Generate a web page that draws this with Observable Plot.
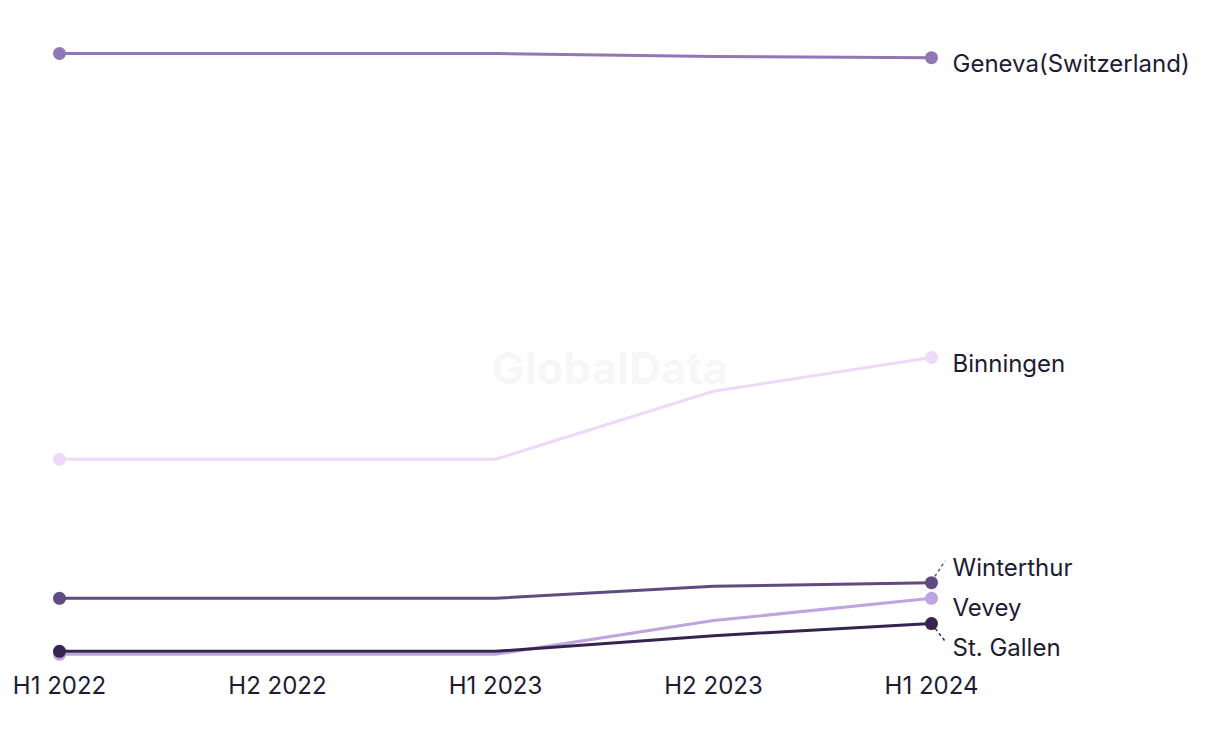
<!DOCTYPE html>
<html>
<head>
<meta charset="utf-8">
<script src="https://cdn.jsdelivr.net/npm/d3@7"></script>
<script src="https://cdn.jsdelivr.net/npm/@observablehq/plot@0.6"></script>
<style>
  html, body { margin: 0; padding: 0; background: #ffffff; }
  #chart { width: 1220px; height: 744px; }
  svg { font-family: Inter, "Noto Sans", sans-serif; }
</style>
</head>
<body>
<div id="chart"></div>
<script>
const periods = ["H1 2022", "H2 2022", "H1 2023", "H2 2023", "H1 2024"];
const cities = ["Geneva(Switzerland)", "Binningen", "Winterthur", "Vevey", "St. Gallen"];
const geneva = [100, 100, 100, 99.5, 99.3];
const binningen = [32.6, 32.6, 32.6, 43.9, 49.5];
const winterthur = [9.5, 9.5, 9.5, 11.5, 12.1];
const vevey = [0.2, 0.2, 0.2, 5.8, 9.5];
const stGallen = [0.7, 0.7, 0.7, 3.3, 5.3];
const colors = ["#9177b5", "#efd9fb", "#5f4a82", "#bfa5e0", "#35244f"];
const watermark = "GlobalData";

const seriesValues = [geneva, binningen, winterthur, vevey, stGallen];
const rows = [];
cities.forEach((c, i) => periods.forEach((p, j) => rows.push({city: c, period: p, value: seriesValues[i][j], color: colors[i]})));
const ends = rows.filter(d => d.period === periods[0] || d.period === periods[periods.length - 1]);
const last = rows.filter(d => d.period === periods[periods.length - 1]);

const W = 1220, H = 744, mT = 53, mB = 89, mL = 58, mR = 288;
const yS = Plot.scale({y: {domain: [0, 100], range: [H - mB, mT]}});

// dodge labels (pixel space), min spacing 40
const SP = 40;
const items = last.map(d => ({d, py: yS.apply(d.value)})).sort((a, b) => a.py - b.py);
let clusters = items.map(it => ({items: [it], center: it.py}));
let merged = true;
while (merged) {
  merged = false;
  for (let i = 1; i < clusters.length; i++) {
    const a = clusters[i - 1], b = clusters[i];
    const aBottom = a.center + (a.items.length - 1) * SP / 2;
    const bTop = b.center - (b.items.length - 1) * SP / 2;
    if (bTop - aBottom < SP) {
      const all = a.items.concat(b.items);
      const c = {items: all, center: d3.mean(all, t => t.py)};
      clusters.splice(i - 1, 2, c);
      merged = true;
      break;
    }
  }
}
clusters.forEach(c => c.items.forEach((it, k) => { it.ly = c.center + (k - (c.items.length - 1) / 2) * SP; }));
const labels = items.map(it => ({city: it.d.city, value: it.d.value, lv: yS.invert(it.ly), shifted: Math.abs(it.ly - it.py) > 6, color: it.d.color}));

const connectors = (index, scales, values, dimensions) => {
  const g = d3.create("svg:g");
  labels.filter(l => l.shifted).forEach(l => {
    const x0 = scales.x(periods[periods.length - 1]);
    const y0 = scales.y(l.value);
    const y1 = scales.y(l.lv);
    const x1 = x0 + 14;
    const len = Math.hypot(x1 - x0, y1 - y0);
    const sx = x0 + (x1 - x0) * 7 / len, sy = y0 + (y1 - y0) * 7 / len;
    g.append("line").attr("x1", sx).attr("y1", sy).attr("x2", x1).attr("y2", y1)
      .attr("stroke", l.color).attr("stroke-width", 1.5).attr("stroke-dasharray", "3,3");
  });
  return g.node();
};

const wm = (index, scales, values, dimensions) => {
  return d3.create("svg:text")
    .attr("x", dimensions.width / 2).attr("y", 372)
    .attr("text-anchor", "middle").attr("dominant-baseline", "middle")
    .attr("font-size", 44).attr("font-weight", 700).attr("fill", "#f7f7f7")
    .text(watermark).node();
};

const chart = Plot.plot({
  width: W, height: H,
  marginTop: mT, marginBottom: mB, marginLeft: mL, marginRight: mR,
  style: {fontFamily: "Inter, 'Noto Sans', sans-serif", color: "#1e1b33", background: "#fff"},
  x: {type: "point", domain: periods, padding: 0, label: null, tickSize: 0, tickPadding: 21},
  y: {domain: [0, 100], axis: null},
  marks: [
    wm,
    Plot.axisX({tickSize: 0, tickPadding: 21, fontSize: 24, fill: "#1e1b33", label: null}),
    Plot.line(rows, {x: "period", y: "value", z: "city", stroke: "color", strokeWidth: 3, curve: "linear"}),
    Plot.dot(ends, {x: "period", y: "value", fill: "color", r: 6.5}),
    connectors,
    Plot.text(labels, {x: () => periods[periods.length - 1], y: "lv", text: "city", textAnchor: "start", dx: 21, dy: 7, fontSize: 24, fill: "#1e1b33"})
  ]
});
document.getElementById("chart").appendChild(chart);
</script>
</body>
</html>
